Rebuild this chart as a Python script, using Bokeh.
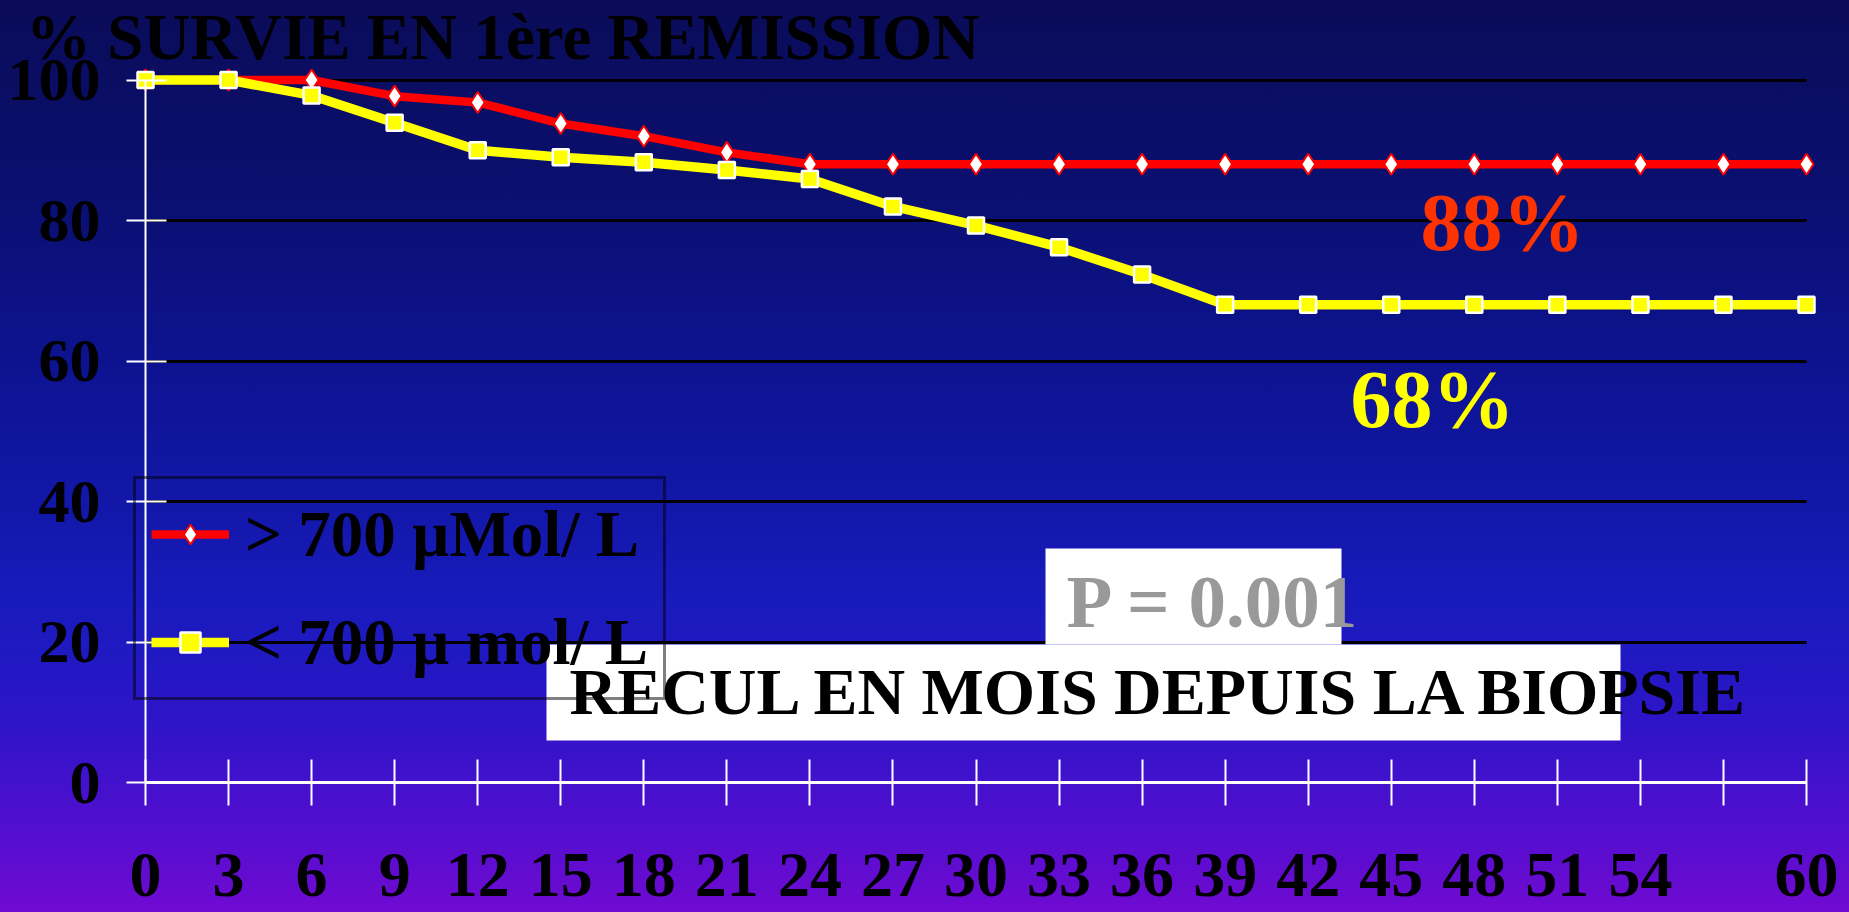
from bokeh.plotting import figure
from bokeh.models import (ColumnDataSource, Range1d, LinearAxis, FixedTicker, Legend,
                          LegendItem, Label, BoxAnnotation, Grid)
from bokeh.embed import file_html
from bokeh.resources import INLINE

# ---------------- data ----------------
months = [0, 3, 6, 9, 12, 15, 18, 21, 24, 27, 30, 33, 36, 39, 42, 45, 48, 51, 54, 57, 60]
surv_high = [100, 100, 100, 97.7, 96.8, 93.8, 92.0, 89.7, 88, 88, 88, 88, 88, 88, 88, 88, 88, 88, 88, 88, 88]
surv_low = [100, 100, 97.8, 93.9, 90.0, 89.0, 88.3, 87.2, 85.9, 82.0, 79.3, 76.2, 72.3, 68, 68, 68, 68, 68, 68, 68, 68]
y_ticks = [0, 20, 40, 60, 80, 100]
grid_ticks = [20, 40, 60, 80, 100]
hidden_x_labels = [57]
series_labels = ["> 700 \u00b5Mol/ L", "< 700 \u00b5 mol/ L"]
title_text = "% SURVIE EN 1\u00e8re REMISSION"
xaxis_text = "RECUL EN MOIS DEPUIS LA BIOPSIE"
p_text = "P = 0.001"
end_texts = ["88%", "68%"]

# ---------------- layout helpers (reference pixel -> data) ----------------
X0_PX, X60_PX = 145.0, 1806.0
Y0_PX, Y100_PX = 782.0, 79.5
W, H = 1849, 912
FONT = "Liberation Serif"


def dx(px):
    return (px - X0_PX) * 60.0 / (X60_PX - X0_PX)


def dy(py):
    return (Y0_PX - py) * 100.0 / (Y0_PX - Y100_PX)


src = ColumnDataSource(dict(m=months, hi=surv_high, lo=surv_low))

p = figure(width=W, height=H, output_backend="svg", toolbar_location=None, title=None,
           x_range=Range1d(dx(0), dx(W)), y_range=Range1d(dy(H), dy(0)),
           min_border_left=0, min_border_right=0, min_border_top=0, min_border_bottom=0,
           background_fill_alpha=0, border_fill_alpha=0, outline_line_color=None)
p.styles = {"background": "linear-gradient(180deg, #0a0c58 0%, #0a0f6e 20%, #0d1390 40%, "
                          "#1217a8 55%, #181bbb 65%, #2019c2 72%, #3014c8 80%, #500fce 90%, #700ad2 100%)"}

# ---------------- grid ----------------
p.xgrid.visible = False
yg = p.ygrid[0]
yg.ticker = FixedTicker(ticks=grid_ticks)
yg.grid_line_color = "black"
yg.grid_line_width = 3
if "cross_bounds" in Grid.properties():
    yg.cross_bounds = (0, 60)


def blank_labels(ax, ticks):
    ax.major_label_overrides = {t: "" for t in ticks}
    ax.major_label_text_font_size = "0px"
    ax.major_label_standoff = 0


# ---------------- label axes (default axes) ----------------
xl = p.xaxis[0]
xl.ticker = FixedTicker(ticks=months)
xl.major_label_overrides = {m: "" for m in hidden_x_labels}
xl.fixed_location = dy(925)
xl.axis_line_color = None
xl.major_tick_line_color = None
xl.minor_tick_line_color = None
xl.major_tick_in = 0
xl.major_tick_out = 0
xl.major_label_standoff = -72
xl.major_label_text_font = FONT
xl.major_label_text_font_style = "bold"
xl.major_label_text_font_size = "64px"
xl.major_label_text_color = "black"

yl = p.yaxis[0]
yl.ticker = FixedTicker(ticks=y_ticks)
yl.fixed_location = dx(7)
yl.axis_line_color = None
yl.major_tick_line_color = None
yl.minor_tick_line_color = None
yl.major_tick_in = 0
yl.major_tick_out = 0
yl.major_label_standoff = -93
yl.major_label_text_font = FONT
yl.major_label_text_font_style = "bold"
yl.major_label_text_font_size = "62px"
yl.major_label_text_color = "black"

# ---------------- white rule + tick axes ----------------
xt = LinearAxis(ticker=FixedTicker(ticks=months), bounds=(0, 60), fixed_location=dy(805),
                axis_line_color=None, major_tick_line_color="white", major_tick_line_width=2,
                major_tick_in=46, major_tick_out=0, minor_tick_line_color=None)
blank_labels(xt, months)
p.add_layout(xt, "below")

xline = LinearAxis(ticker=FixedTicker(ticks=[]), bounds=(0, 60), fixed_location=0,
                   axis_line_color="white", axis_line_width=3, major_tick_line_color=None,
                   minor_tick_line_color=None, major_tick_in=0, major_tick_out=0)
blank_labels(xline, [])
p.add_layout(xline, "below")

yt = LinearAxis(ticker=FixedTicker(ticks=y_ticks), bounds=(0, 100), fixed_location=dx(126),
                axis_line_color=None, major_tick_line_color="white", major_tick_line_width=2,
                major_tick_in=40, major_tick_out=0, minor_tick_line_color=None)
blank_labels(yt, y_ticks)
p.add_layout(yt, "left")

yline = LinearAxis(ticker=FixedTicker(ticks=[]), bounds=(0, 100), fixed_location=0,
                   axis_line_color="white", axis_line_width=2, major_tick_line_color=None,
                   minor_tick_line_color=None, major_tick_in=0, major_tick_out=0)
blank_labels(yline, [])
p.add_layout(yline, "left")

# ---------------- series ----------------
r1l = p.line("m", "hi", source=src, line_color="#ff0000", line_width=8.5, line_join="round")
r1m = p.scatter("m", "hi", source=src, marker="diamond", size=21, fill_color="white",
                line_color="#ff0000", line_width=2)
r2l = p.line("m", "lo", source=src, line_color="#ffff00", line_width=9.5, line_join="round")
r2m = p.scatter("m", "lo", source=src, marker="square", size=16, fill_color="#ffff00",
                line_color="white", line_width=2.5)

legend = Legend(items=[LegendItem(label=series_labels[0], renderers=[r1l, r1m]),
                       LegendItem(label=series_labels[1], renderers=[r2l, r2m])],
                location=(133, H - 700), orientation="vertical",
                border_line_color="black", border_line_width=3, background_fill_alpha=0,
                label_text_font=FONT, label_text_font_style="bold", label_text_font_size="65px",
                label_text_color="black", glyph_width=78, glyph_height=50, label_height=80,
                label_width=395, spacing=28, padding=15, label_standoff=16, margin=0)
p.add_layout(legend, "center")

# ---------------- white boxes ----------------
p.add_layout(BoxAnnotation(left=dx(1045), right=dx(1341), top=dy(548), bottom=dy(644),
                           fill_color="white", fill_alpha=1, line_color=None))
p.add_layout(BoxAnnotation(left=dx(546), right=dx(1620), top=dy(644), bottom=dy(740),
                           fill_color="white", fill_alpha=1, line_color=None))


def add_text(txt, px, py, size, color):
    p.add_layout(Label(x=dx(px), y=dy(py), text=txt, text_font=FONT, text_font_style="bold",
                       text_font_size=size, text_color=color, text_align="left",
                       text_baseline="alphabetic"))


add_text(title_text, 25.5, 57 - 21, "65px", "black")
add_text(end_texts[0], 1420, 253 - 31, "82px", "#ff3300")
add_text(end_texts[1], 1350, 430 - 31, "82px", "#ffff00")
add_text(p_text, 1066, 628 - 27, "75px", "#999999")
add_text(xaxis_text, 569, 713 - 22, "66px", "black")

open("out.html", "w").write(file_html(p, INLINE))
